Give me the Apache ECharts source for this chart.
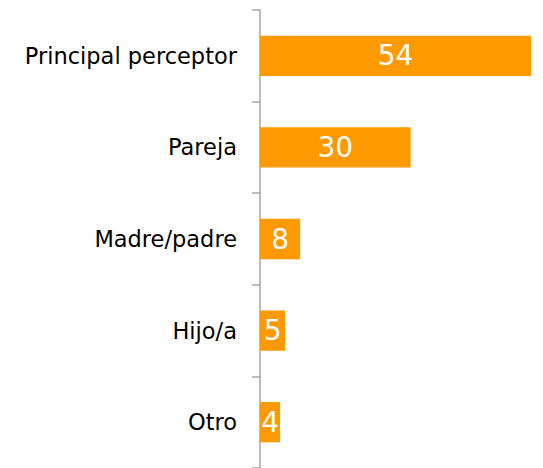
<!DOCTYPE html>
<html>
<head>
<meta charset="utf-8">
<script src="https://cdn.jsdelivr.net/npm/echarts@6/dist/echarts.min.js"></script>
<style>
  html, body { margin: 0; padding: 0; background: #fff; }
  #chart { width: 543px; height: 468px; }
</style>
</head>
<body>
<div id="chart"></div>
<script>
// 类目（从上到下）
const categories = ['Principal perceptor', 'Pareja', 'Madre/padre', 'Hijo/a', 'Otro']
const values = [54, 30, 8, 5, 4]

const chart = echarts.init(document.getElementById('chart'), null, { renderer: 'svg' })

chart.setOption({
  animation: false,
  grid: {
    left: 260,
    right: 12,
    top: 10,
    bottom: -4
  },
  xAxis: {
    type: 'value',
    min: 0,
    max: 54,
    show: false
  },
  yAxis: {
    type: 'category',
    inverse: true,
    data: categories,
    axisLine: {
      lineStyle: { color: '#a6a6a6', width: 1.5 }
    },
    // 刻度线
    axisTick: {
      show: true,
      length: 8,
      lineStyle: { color: '#a6a6a6', width: 1.5 }
    },
    axisLabel: {
      margin: 23,
      color: '#000',
      fontSize: 22.5,
      fontFamily: 'DejaVu Sans, sans-serif'
    }
  },
  series: [
    {
      type: 'bar',
      data: values,
      barWidth: '44%',
      itemStyle: { color: '#ff9900' },
      label: {
        show: true,
        position: 'inside',
        color: '#fff',
        fontSize: 28,
        fontFamily: 'DejaVu Sans, sans-serif'
      }
    }
  ]
})
</script>
</body>
</html>
